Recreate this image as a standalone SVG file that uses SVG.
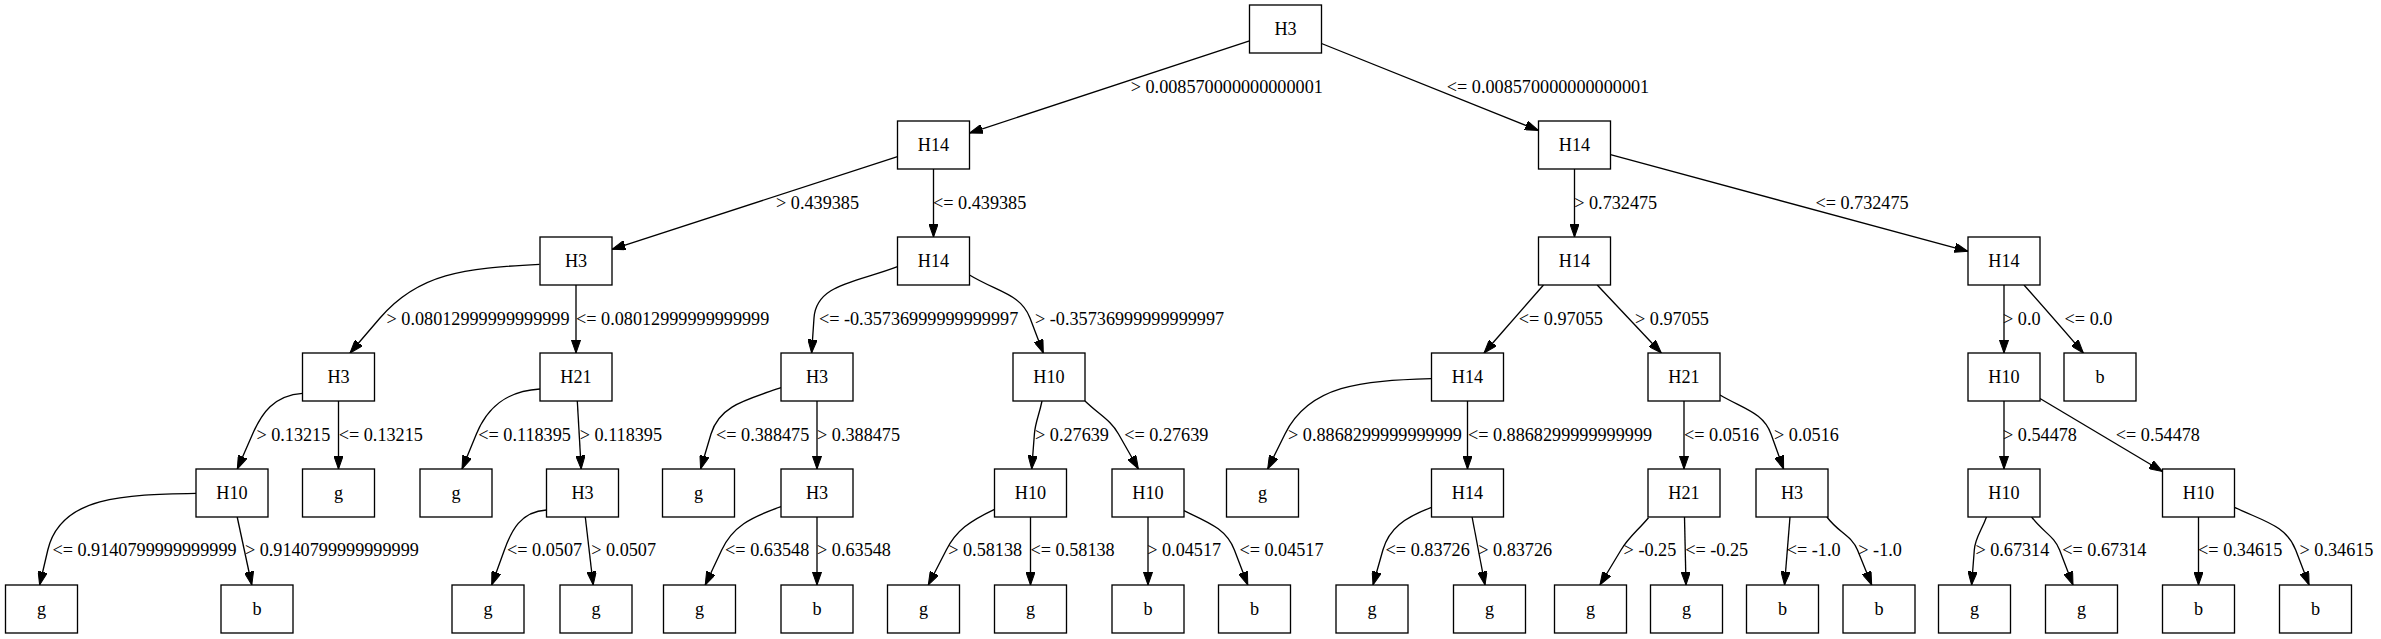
<svg xmlns="http://www.w3.org/2000/svg" width="2381" height="639" viewBox="0 0 2381 639">
<style>
.node rect{fill:#fff;stroke:#000;stroke-width:1.33}
.node text{font-family:"Liberation Serif","Times New Roman",serif;font-size:18.2px;text-anchor:middle;fill:#000}
.edge path{fill:none;stroke:#000;stroke-width:1.33;marker-end:url(#ah)}
.edge text{font-family:"Liberation Serif","Times New Roman",serif;font-size:18.2px;fill:#000}
</style>
<defs>
<marker id="ah" markerUnits="userSpaceOnUse" markerWidth="13.4" markerHeight="9.4" viewBox="0 0 13.33 9.33" refX="13.33" refY="4.67" orient="auto"><path d="M0,0 L13.33,4.67 L0,9.33 z" fill="#000" stroke="#000" stroke-width="1"/></marker>
</defs>
<rect width="2381" height="639" fill="#fff"/>
<g id="connectors">
<g class="edge"><path d="M1249.5,40.9 L969.5,133.1"/><text x="1130.7" y="92.5">&gt; 0.008570000000000001</text></g>
<g class="edge"><path d="M1321.5,43.5 L1538.5,130.5"/><text x="1446.8" y="92.5">&lt;= 0.008570000000000001</text></g>
<g class="edge"><path d="M897.5,156.7 L612,249.3"/><text x="776" y="208.5">&gt; 0.439385</text></g>
<g class="edge"><path d="M933.5,169 L933.5,237"/><text x="933" y="208.5">&lt;= 0.439385</text></g>
<g class="edge"><path d="M1574.5,169 L1574.5,237"/><text x="1574.2" y="208.5">&gt; 0.732475</text></g>
<g class="edge"><path d="M1610.5,154.7 L1968,251.3"/><text x="1815.4" y="208.5">&lt;= 0.732475</text></g>
<g class="edge"><path d="M539.5,264.3 C463.5,268.3 418.4,273.2 380,318 L350,353"/><text x="386.5" y="324.5">&gt; 0.08012999999999999</text></g>
<g class="edge"><path d="M576,285 L576,353"/><text x="576" y="324.5">&lt;= 0.08012999999999999</text></g>
<g class="edge"><path d="M897.5,266.7 C856.6,282.5 816.3,283.8 814,318 L811.6,353"/><text x="818.9" y="324.5">&lt;= -0.35736999999999997</text></g>
<g class="edge"><path d="M969.5,275 C997.9,292.2 1020.7,293.7 1030,318 L1043.3,353"/><text x="1035" y="324.5">&gt; -0.35736999999999997</text></g>
<g class="edge"><path d="M1543.5,285 L1484,353"/><text x="1518.8" y="324.5">&lt;= 0.97055</text></g>
<g class="edge"><path d="M1597.2,285 L1661.3,353"/><text x="1635" y="324.5">&gt; 0.97055</text></g>
<g class="edge"><path d="M2004,285 L2004,353"/><text x="2003" y="324.5">&gt; 0.0</text></g>
<g class="edge"><path d="M2024,285 C2040,303 2062,328 2083.4,353"/><text x="2064.6" y="324.5">&lt;= 0.0</text></g>
<g class="edge"><path d="M302.5,393.3 C273.5,395.3 261.6,413.4 252.6,434 L237.3,469"/><text x="256.4" y="440.5">&gt; 0.13215</text></g>
<g class="edge"><path d="M338.5,401 L338.5,469"/><text x="338.7" y="440.5">&lt;= 0.13215</text></g>
<g class="edge"><path d="M540,389 C505,391 486.8,408.7 476.4,434 L462,469"/><text x="478.3" y="440.5">&lt;= 0.118395</text></g>
<g class="edge"><path d="M577.3,401 L581.2,469"/><text x="579.7" y="440.5">&gt; 0.118395</text></g>
<g class="edge"><path d="M781,387.7 C745.3,400.1 719.4,405.8 711,434 L700.6,469"/><text x="716" y="440.5">&lt;= 0.388475</text></g>
<g class="edge"><path d="M817,401 L817,469"/><text x="817" y="440.5">&gt; 0.388475</text></g>
<g class="edge"><path d="M1042,401 C1039,415.7 1035.3,422.1 1034.4,434 L1031.7,469"/><text x="1035" y="440.5">&gt; 0.27639</text></g>
<g class="edge"><path d="M1085,401 C1100.1,415.5 1110.3,419.7 1118.5,434 L1138.4,469"/><text x="1124.2" y="440.5">&lt;= 0.27639</text></g>
<g class="edge"><path d="M1431.5,378.7 C1361.5,380.8 1309.3,384.8 1285,434 L1267.7,469"/><text x="1288" y="440.5">&gt; 0.8868299999999999</text></g>
<g class="edge"><path d="M1467.5,401 L1467.5,469"/><text x="1467.9" y="440.5">&lt;= 0.8868299999999999</text></g>
<g class="edge"><path d="M1684,401 L1684,469"/><text x="1684" y="440.5">&lt;= 0.0516</text></g>
<g class="edge"><path d="M1720,395 C1744.9,409.5 1763.4,412.8 1771,434 L1783.6,469"/><text x="1774" y="440.5">&gt; 0.0516</text></g>
<g class="edge"><path d="M2004,401 L2004,469"/><text x="2003" y="440.5">&gt; 0.54478</text></g>
<g class="edge"><path d="M2040,398.5 L2162.5,471.5"/><text x="2115.8" y="440.5">&lt;= 0.54478</text></g>
<g class="edge"><path d="M196,493.3 C124.6,494.5 60.5,495.9 47.8,550 L39.6,585"/><text x="52.4" y="556">&lt;= 0.9140799999999999</text></g>
<g class="edge"><path d="M237.2,517 L251.8,585"/><text x="244.9" y="556">&gt; 0.9140799999999999</text></g>
<g class="edge"><path d="M546.5,510 C520.5,511.5 511.3,530.9 504.4,550 L491.7,585"/><text x="507" y="556">&lt;= 0.0507</text></g>
<g class="edge"><path d="M585.3,517 L593.2,585"/><text x="591.2" y="556">&gt; 0.0507</text></g>
<g class="edge"><path d="M781,506.7 C749.8,517.5 732.6,526.8 721.7,550 L705.2,585"/><text x="725.1" y="556">&lt;= 0.63548</text></g>
<g class="edge"><path d="M817,517 L817,585"/><text x="817" y="556">&gt; 0.63548</text></g>
<g class="edge"><path d="M994.5,509.3 C969.3,521.3 956.3,530.4 946.3,550 L928.3,585"/><text x="948.2" y="556">&gt; 0.58138</text></g>
<g class="edge"><path d="M1030.5,517 L1030.5,585"/><text x="1030.5" y="556">&lt;= 0.58138</text></g>
<g class="edge"><path d="M1148,517 L1148,585"/><text x="1147.2" y="556">&gt; 0.04517</text></g>
<g class="edge"><path d="M1184,510.7 C1209.9,523.1 1226.4,529.1 1234.4,550 L1247.8,585"/><text x="1239.4" y="556">&lt;= 0.04517</text></g>
<g class="edge"><path d="M1431.5,507.3 C1404.5,517.7 1389,528.3 1382.9,550 L1373,585"/><text x="1385.6" y="556">&lt;= 0.83726</text></g>
<g class="edge"><path d="M1472.1,517 L1485,585"/><text x="1478.2" y="556">&gt; 0.83726</text></g>
<g class="edge"><path d="M1648.5,517.7 C1636.2,532.1 1628.7,537.2 1621,550 L1599.9,585"/><text x="1623.6" y="556">&gt; -0.25</text></g>
<g class="edge"><path d="M1684.5,517 L1686,585"/><text x="1685.2" y="556">&lt;= -0.25</text></g>
<g class="edge"><path d="M1790,517 L1784.5,585"/><text x="1786.7" y="556">&lt;= -1.0</text></g>
<g class="edge"><path d="M1826.9,517 C1838.9,533 1851.6,535.4 1857.5,550 L1871.7,585"/><text x="1858.3" y="556">&gt; -1.0</text></g>
<g class="edge"><path d="M1986.5,517 C1981,531.9 1975.2,537.7 1974.3,550 L1971.6,585"/><text x="1975.4" y="556">&gt; 0.67314</text></g>
<g class="edge"><path d="M2031.6,517 C2043.3,532.6 2054.2,535.8 2059.6,550 L2073,585"/><text x="2062.3" y="556">&lt;= 0.67314</text></g>
<g class="edge"><path d="M2198.5,517 L2198.5,585"/><text x="2198.1" y="556">&lt;= 0.34615</text></g>
<g class="edge"><path d="M2234.5,507.3 C2264.7,521.7 2286.4,525.6 2295.7,550 L2309.1,585"/><text x="2299.5" y="556">&gt; 0.34615</text></g>
</g>
<g id="nodes">
<g id="n0" class="node" transform="translate(1285.5,29)"><rect x="-36" y="-24" width="72" height="48"/><text y="5.5">H3</text></g>
<g id="n1" class="node" transform="translate(933.5,145)"><rect x="-36" y="-24" width="72" height="48"/><text y="5.5">H14</text></g>
<g id="n2" class="node" transform="translate(1574.5,145)"><rect x="-36" y="-24" width="72" height="48"/><text y="5.5">H14</text></g>
<g id="n3" class="node" transform="translate(576,261)"><rect x="-36" y="-24" width="72" height="48"/><text y="5.5">H3</text></g>
<g id="n4" class="node" transform="translate(933.5,261)"><rect x="-36" y="-24" width="72" height="48"/><text y="5.5">H14</text></g>
<g id="n5" class="node" transform="translate(1574.5,261)"><rect x="-36" y="-24" width="72" height="48"/><text y="5.5">H14</text></g>
<g id="n6" class="node" transform="translate(2004,261)"><rect x="-36" y="-24" width="72" height="48"/><text y="5.5">H14</text></g>
<g id="n7" class="node" transform="translate(338.5,377)"><rect x="-36" y="-24" width="72" height="48"/><text y="5.5">H3</text></g>
<g id="n8" class="node" transform="translate(576,377)"><rect x="-36" y="-24" width="72" height="48"/><text y="5.5">H21</text></g>
<g id="n9" class="node" transform="translate(817,377)"><rect x="-36" y="-24" width="72" height="48"/><text y="5.5">H3</text></g>
<g id="n10" class="node" transform="translate(1049,377)"><rect x="-36" y="-24" width="72" height="48"/><text y="5.5">H10</text></g>
<g id="n11" class="node" transform="translate(1467.5,377)"><rect x="-36" y="-24" width="72" height="48"/><text y="5.5">H14</text></g>
<g id="n12" class="node" transform="translate(1684,377)"><rect x="-36" y="-24" width="72" height="48"/><text y="5.5">H21</text></g>
<g id="n13" class="node" transform="translate(2004,377)"><rect x="-36" y="-24" width="72" height="48"/><text y="5.5">H10</text></g>
<g id="n14" class="node" transform="translate(2100,377)"><rect x="-36" y="-24" width="72" height="48"/><text y="5.5">b</text></g>
<g id="n15" class="node" transform="translate(232,493)"><rect x="-36" y="-24" width="72" height="48"/><text y="5.5">H10</text></g>
<g id="n16" class="node" transform="translate(338.5,493)"><rect x="-36" y="-24" width="72" height="48"/><text y="5.5">g</text></g>
<g id="n17" class="node" transform="translate(456,493)"><rect x="-36" y="-24" width="72" height="48"/><text y="5.5">g</text></g>
<g id="n18" class="node" transform="translate(582.5,493)"><rect x="-36" y="-24" width="72" height="48"/><text y="5.5">H3</text></g>
<g id="n19" class="node" transform="translate(698.5,493)"><rect x="-36" y="-24" width="72" height="48"/><text y="5.5">g</text></g>
<g id="n20" class="node" transform="translate(817,493)"><rect x="-36" y="-24" width="72" height="48"/><text y="5.5">H3</text></g>
<g id="n21" class="node" transform="translate(1030.5,493)"><rect x="-36" y="-24" width="72" height="48"/><text y="5.5">H10</text></g>
<g id="n22" class="node" transform="translate(1148,493)"><rect x="-36" y="-24" width="72" height="48"/><text y="5.5">H10</text></g>
<g id="n23" class="node" transform="translate(1262.5,493)"><rect x="-36" y="-24" width="72" height="48"/><text y="5.5">g</text></g>
<g id="n24" class="node" transform="translate(1467.5,493)"><rect x="-36" y="-24" width="72" height="48"/><text y="5.5">H14</text></g>
<g id="n25" class="node" transform="translate(1684,493)"><rect x="-36" y="-24" width="72" height="48"/><text y="5.5">H21</text></g>
<g id="n26" class="node" transform="translate(1792,493)"><rect x="-36" y="-24" width="72" height="48"/><text y="5.5">H3</text></g>
<g id="n27" class="node" transform="translate(2004,493)"><rect x="-36" y="-24" width="72" height="48"/><text y="5.5">H10</text></g>
<g id="n28" class="node" transform="translate(2198.5,493)"><rect x="-36" y="-24" width="72" height="48"/><text y="5.5">H10</text></g>
<g id="n29" class="node" transform="translate(41.5,609)"><rect x="-36" y="-24" width="72" height="48"/><text y="5.5">g</text></g>
<g id="n30" class="node" transform="translate(257,609)"><rect x="-36" y="-24" width="72" height="48"/><text y="5.5">b</text></g>
<g id="n31" class="node" transform="translate(488,609)"><rect x="-36" y="-24" width="72" height="48"/><text y="5.5">g</text></g>
<g id="n32" class="node" transform="translate(596,609)"><rect x="-36" y="-24" width="72" height="48"/><text y="5.5">g</text></g>
<g id="n33" class="node" transform="translate(699.5,609)"><rect x="-36" y="-24" width="72" height="48"/><text y="5.5">g</text></g>
<g id="n34" class="node" transform="translate(817,609)"><rect x="-36" y="-24" width="72" height="48"/><text y="5.5">b</text></g>
<g id="n35" class="node" transform="translate(923.5,609)"><rect x="-36" y="-24" width="72" height="48"/><text y="5.5">g</text></g>
<g id="n36" class="node" transform="translate(1030.5,609)"><rect x="-36" y="-24" width="72" height="48"/><text y="5.5">g</text></g>
<g id="n37" class="node" transform="translate(1148,609)"><rect x="-36" y="-24" width="72" height="48"/><text y="5.5">b</text></g>
<g id="n38" class="node" transform="translate(1254.5,609)"><rect x="-36" y="-24" width="72" height="48"/><text y="5.5">b</text></g>
<g id="n39" class="node" transform="translate(1372,609)"><rect x="-36" y="-24" width="72" height="48"/><text y="5.5">g</text></g>
<g id="n40" class="node" transform="translate(1489.5,609)"><rect x="-36" y="-24" width="72" height="48"/><text y="5.5">g</text></g>
<g id="n41" class="node" transform="translate(1590.5,609)"><rect x="-36" y="-24" width="72" height="48"/><text y="5.5">g</text></g>
<g id="n42" class="node" transform="translate(1686.5,609)"><rect x="-36" y="-24" width="72" height="48"/><text y="5.5">g</text></g>
<g id="n43" class="node" transform="translate(1782.5,609)"><rect x="-36" y="-24" width="72" height="48"/><text y="5.5">b</text></g>
<g id="n44" class="node" transform="translate(1879,609)"><rect x="-36" y="-24" width="72" height="48"/><text y="5.5">b</text></g>
<g id="n45" class="node" transform="translate(1974.5,609)"><rect x="-36" y="-24" width="72" height="48"/><text y="5.5">g</text></g>
<g id="n46" class="node" transform="translate(2081.5,609)"><rect x="-36" y="-24" width="72" height="48"/><text y="5.5">g</text></g>
<g id="n47" class="node" transform="translate(2198.5,609)"><rect x="-36" y="-24" width="72" height="48"/><text y="5.5">b</text></g>
<g id="n48" class="node" transform="translate(2315.5,609)"><rect x="-36" y="-24" width="72" height="48"/><text y="5.5">b</text></g>
</g>
</svg>
